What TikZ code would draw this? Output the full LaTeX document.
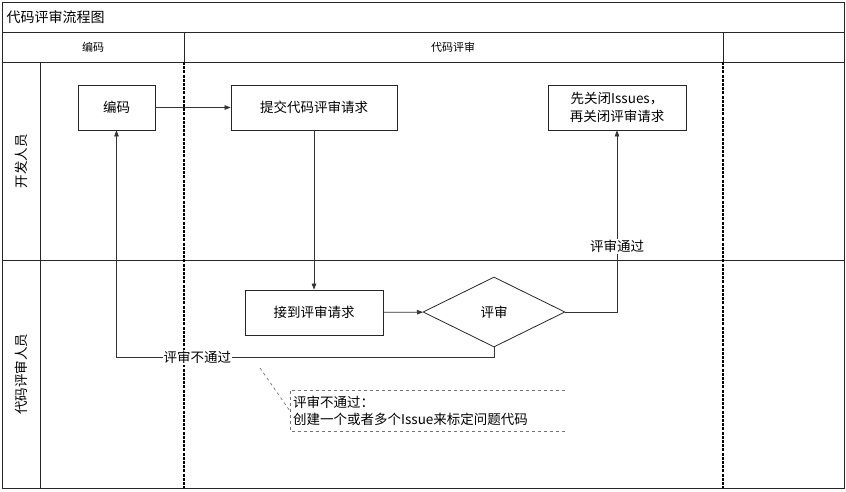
\documentclass[tikz,border=0pt]{standalone}
\usepackage{fontspec}
\setmainfont{Noto Sans CJK SC}
\usepackage{tikz}
\usetikzlibrary{shapes.geometric,arrows.meta,positioning,calc}

\begin{document}
\begin{tikzpicture}[x=1pt, y=-1pt,
    font=\fontsize{13.5pt}{17pt}\selectfont,
    frame/.style={draw=black!85, line width=0.8pt},
    lanesep/.style={black, line width=1.6pt, dash pattern=on 3pt off 1.2pt},
    stepbox/.style={draw=black!85, line width=0.8pt, fill=white, minimum height=45pt, inner sep=2pt, align=center},
    decision/.style={diamond, draw=black!85, line width=0.8pt, fill=white, minimum width=142pt, minimum height=70pt, inner sep=0pt},
    flow/.style={draw=black!80, line width=0.7pt, -{Triangle[length=6pt,width=4.5pt]}},
    flowlabel/.style={fill=white, inner sep=1pt},
    headtext/.style={font=\fontsize{11pt}{13pt}\selectfont}]
\useasboundingbox (0,0) rectangle (846,491);

% Pool frame, title and header rows
\draw[frame] (2,2) rectangle (844,488);
\draw[frame] (2,32) -- (844,32);
\draw[frame] (2,62) -- (844,62);
\draw[frame] (2,260) -- (844,260);
\draw[frame] (40,62) -- (40,488);
\node[anchor=west, font=\fontsize{14pt}{16pt}\selectfont] (title) at (3,17) {代码评审流程图};

% Phase columns
\foreach \x in {184,723} {
    \draw[frame] (\x,32) -- (\x,62);
    \draw[lanesep] (\x,62) -- (\x,488);
}
\node[headtext] (phaseCode) at (93,47) {编码};
\node[headtext] (phaseReview) at (453,47) {代码评审};

% Lanes
\node[rotate=90] (laneDev) at (21,161) {开发人员};
\node[rotate=90] (laneRev) at (21,374) {代码评审人员};

% Steps
\node[stepbox, minimum width=77pt] (code) at (116.5,107.5) {编码};
\node[stepbox, minimum width=166pt] (submit) at (314,107.5) {提交代码评审请求};
\node[stepbox, minimum width=138pt, font=\fontsize{13.5pt}{18pt}\selectfont] (close) at (617,107.5) {先关闭Issues，\\再关闭评审请求};
\node[stepbox, minimum width=138pt] (receive) at (314,312.5) {接到评审请求};
\node[decision] (review) at (494,312) {评审};

% Connectors
\draw[flow] (code) -- (submit);
\draw[flow] (submit) -- (receive);
\draw[flow] (receive) -- (review);
\draw[flow] (review.east) -| node[pos=0.68, flowlabel] {评审通过} (close.south);
\draw[flow] (review.south) -- ++(0,10) -| node[pos=0.393, flowlabel] {评审不通过} (code.south);

% Note
\node[anchor=west, align=left, inner sep=2pt, minimum width=275pt, minimum height=40pt, text width=269pt] (note) at (290,411) {评审不通过：\\创建一个或者多个Issue来标定问题代码};
\coordinate (noteTip) at (260,368);
\draw[black!55, dashed, line width=0.7pt] (note.north east) -- (note.north west) -- (note.south west) -- (note.south east);
\draw[black!55, dashed, line width=0.7pt] (noteTip) -- (note.west);
\end{tikzpicture}
\end{document}
